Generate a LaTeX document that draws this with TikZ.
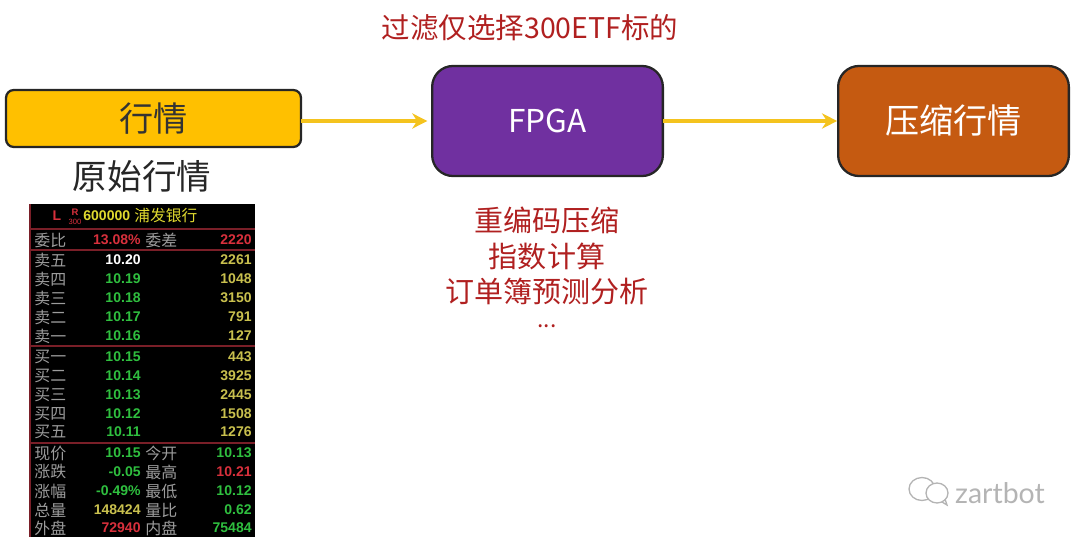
\documentclass[tikz,border=0pt]{standalone}
\usepackage{fontspec}
\setmainfont{Noto Sans CJK SC}
\newfontfamily\numfont[Ligatures=TeX]{Liberation Sans}
\newfontfamily\markfont{Lato}
\usepackage{xcolor}
\usetikzlibrary{arrows.meta, positioning}
\definecolor{boxyellow}{HTML}{FFC000}
\definecolor{boxpurple}{HTML}{7030A0}
\definecolor{boxorange}{HTML}{C55A11}
\definecolor{arrowyellow}{HTML}{F4C31E}
\definecolor{notered}{HTML}{B02020}
\definecolor{quotegrey}{HTML}{9C9C9C}
\definecolor{quotered}{HTML}{D8303C}
\definecolor{quotegreen}{HTML}{2FBF3F}
\definecolor{quoteyellow}{HTML}{C9C04E}
\definecolor{quoteline}{HTML}{7A1F28}
\definecolor{markgrey}{HTML}{B4B4B4}
\tikzset{
  flowbox/.style={draw=black!85, line width=1.2pt, outer sep=0pt, rounded corners=11pt,
    minimum width=121.6pt, minimum height=58pt, font=\fontsize{18}{20}\selectfont, text=white},
  flowarrow/.style={draw=arrowyellow, line width=2pt, -{Stealth[length=8pt,width=8pt]}},
  notetext/.style={text=notered, font=\fontsize{15.3}{16}\selectfont, inner sep=0pt},
  quotelabel/.style={anchor=west, text=quotegrey, font=\fontsize{8.4}{9}\selectfont, inner sep=0pt},
  quotenum/.style={anchor=east, font=\numfont\bfseries\fontsize{7.4}{8}\selectfont, inner sep=0pt},
  quoterule/.style={draw=quoteline, line width=0.7pt}
}
\begin{document}
\begin{tikzpicture}[x=0.0185185cm, y=-0.0185185cm]
    \useasboundingbox (0,0) rectangle (1080,537);

    \node[flowbox, fill=boxyellow, rounded corners=4pt, minimum width=155.4pt, minimum height=30pt, text=black!80] at (153.5,118.5) (quote) {行情};
    \node[flowbox, fill=boxpurple, font=\fontsize{16.6}{18}\selectfont] at (547.5,121) (fpga) {FPGA};
    \node[flowbox, fill=boxorange] at (953.5,121) (compressed) {压缩行情};
    \draw[flowarrow, shorten >=2.5pt] (quote.east |- fpga.west) -- (fpga.west);
    \draw[flowarrow, shorten >=0.5pt] (fpga.east) -- (compressed.west);

    \node[notetext, font=\fontsize{15}{16}\selectfont] at (530,28) (filter) {过滤仅选择300ETF标的};
    \node[notetext] at (547,220) (recode) {重编码压缩};
    \node[notetext] at (547,256) (index) {指数计算};
    \node[notetext] at (547,291) (orderbook) {订单簿预测分析};
    \node[notetext, font=\fontsize{12}{12}\selectfont, text height=3pt, text depth=0pt] at (547,325) (dots) {...};
    \node[text=black!85, font=\fontsize{18.2}{20}\selectfont, inner sep=0pt] at (142,176) (rawtitle) {原始行情};

    % quote screenshot
    \fill[black] (29,204) rectangle (255,537);
    \draw[quoterule] (30,204) -- (30,537);
    \foreach \ry in {229,250,346,443}
      \draw[quoterule] (30,\ry) -- (255,\ry);
    \node[text=quotered, font=\numfont\bfseries\fontsize{7.4}{8}\selectfont, inner sep=0pt] at (57,216) (hdl) {L};
    \node[text=quotered, font=\numfont\bfseries\fontsize{5}{5}\selectfont, inner sep=0pt] at (75,212) (hdr) {R};
    \node[text=quotered, font=\numfont\fontsize{4}{4}\selectfont, inner sep=0pt] at (75,222) (hdn) {300};
    \node[quotenum, text=quoteyellow!60!yellow, anchor=west] at (83,216) (hdcode) {600000};
    \node[quotelabel, text=quoteyellow!60!yellow, font=\fontsize{8.3}{9}\selectfont] at (134,216) (hdname) {浦发银行};

    \foreach \ry/\la/\va/\ca/\lb/\vb/\cb [count=\ri] in {
      240/委比/13.08\%/quotered/委差/2220/quotered,
      260/卖五/10.20/white//2261/quoteyellow,
      279/卖四/10.19/quotegreen//1048/quoteyellow,
      298/卖三/10.18/quotegreen//3150/quoteyellow,
      317/卖二/10.17/quotegreen//791/quoteyellow,
      336/卖一/10.16/quotegreen//127/quoteyellow,
      357/买一/10.15/quotegreen//443/quoteyellow,
      376/买二/10.14/quotegreen//3925/quoteyellow,
      395/买三/10.13/quotegreen//2445/quoteyellow,
      414/买四/10.12/quotegreen//1508/quoteyellow,
      432/买五/10.11/quotegreen//1276/quoteyellow,
      453/现价/10.15/quotegreen/今开/10.13/quotegreen,
      472/涨跌/-0.05/quotegreen/最高/10.21/quotered,
      491/涨幅/-0.49\%/quotegreen/最低/10.12/quotegreen,
      510/总量/148424/quoteyellow/量比/0.62/quotegreen,
      528/外盘/72940/quotered/内盘/75484/quotegreen}{
      \node[quotelabel] at (34,\ry) (la\ri) {\la};
      \node[quotenum, text=\ca] at (141,\ry) (va\ri) {\va};
      \node[quotelabel] at (145,\ry) (lb\ri) {\lb};
      \node[quotenum, text=\cb] at (252,\ry) (vb\ri) {\vb};
    }

    % watermark
    \draw[markgrey, line width=0.7pt] (922,489) ellipse (13 and 11.5);
    \draw[markgrey, line width=0.7pt, fill=white] (937,493) ellipse (11 and 10);
    \draw[markgrey, line width=0.7pt] (942,502) -- (947,505) -- (945,499);
    \node[text=markgrey, font=\markfont\fontsize{15}{16}\selectfont, inner sep=0pt] at (1000,493) (mark) {zartbot};
\end{tikzpicture}
\end{document}
